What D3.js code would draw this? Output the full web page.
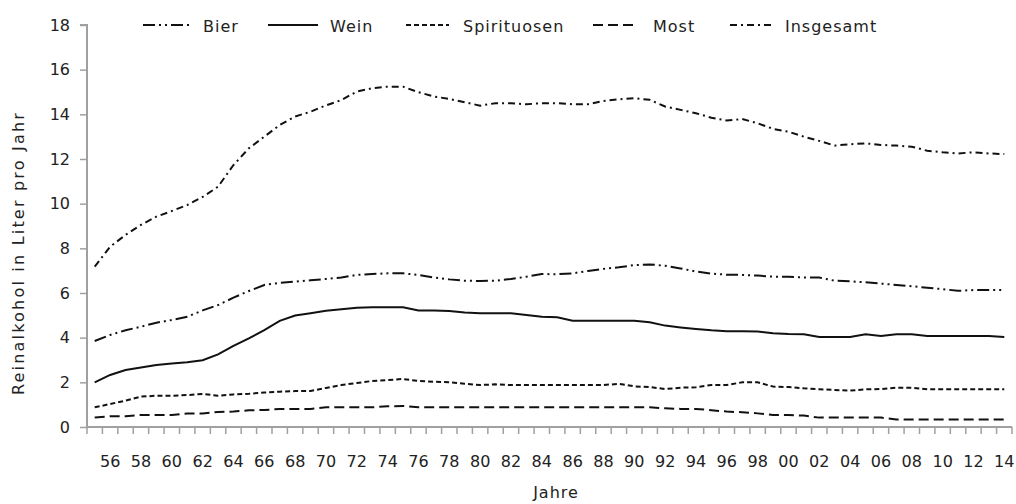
<!DOCTYPE html>
<html>
<head>
<meta charset="utf-8">
<script src="https://cdn.jsdelivr.net/npm/d3@7"></script>
<style>
  html, body { margin: 0; padding: 0; background: #fff; }
  svg { display: block; }
  text { font-family: "DejaVu Sans", "Lato", sans-serif; fill: #222; }
</style>
</head>
<body>
<svg id="chart" width="1016" height="504"></svg>
<script>
const years = d3.range(1955, 2015);
const yTicks = [0, 2, 4, 6, 8, 10, 12, 14, 16, 18];
const seriesNames = ["Bier", "Wein", "Spirituosen", "Most", "Insgesamt"];

const bier = [3.85, 4.12, 4.33, 4.49, 4.67, 4.79, 4.94, 5.22, 5.46, 5.79,
              6.09, 6.36, 6.45, 6.51, 6.57, 6.63, 6.69, 6.81, 6.85, 6.88,
              6.88, 6.81, 6.69, 6.61, 6.55, 6.54, 6.55, 6.63, 6.73, 6.85,
              6.84, 6.88, 6.99, 7.08, 7.15, 7.25, 7.28, 7.22, 7.10, 6.96,
              6.87, 6.82, 6.81, 6.78, 6.73, 6.73, 6.69, 6.69, 6.55, 6.52,
              6.48, 6.42, 6.36, 6.30, 6.24, 6.17, 6.10, 6.13, 6.13, 6.13];
const wein = [2.00, 2.33, 2.55, 2.66, 2.78, 2.84, 2.90, 2.99, 3.25, 3.63,
              3.97, 4.34, 4.75, 4.99, 5.09, 5.20, 5.27, 5.34, 5.36, 5.36,
              5.36, 5.22, 5.22, 5.19, 5.13, 5.09, 5.09, 5.09, 5.01, 4.94,
              4.91, 4.76, 4.76, 4.76, 4.76, 4.76, 4.69, 4.54, 4.46, 4.39,
              4.33, 4.29, 4.29, 4.28, 4.20, 4.16, 4.15, 4.03, 4.03, 4.03,
              4.15, 4.08, 4.15, 4.15, 4.08, 4.08, 4.08, 4.08, 4.08, 4.03];
const spirituosen = [0.88, 1.03, 1.18, 1.36, 1.40, 1.40, 1.43, 1.48, 1.40, 1.46,
              1.49, 1.54, 1.58, 1.61, 1.61, 1.75, 1.88, 1.97, 2.06, 2.10,
              2.15, 2.06, 2.03, 2.00, 1.94, 1.88, 1.91, 1.88, 1.88, 1.88,
              1.88, 1.88, 1.88, 1.88, 1.93, 1.82, 1.79, 1.70, 1.76, 1.78,
              1.88, 1.88, 2.00, 2.00, 1.81, 1.79, 1.73, 1.69, 1.66, 1.63,
              1.69, 1.70, 1.76, 1.76, 1.69, 1.69, 1.69, 1.69, 1.69, 1.69];
const most = [0.42, 0.48, 0.48, 0.54, 0.54, 0.54, 0.60, 0.61, 0.67, 0.69,
              0.75, 0.76, 0.81, 0.81, 0.81, 0.88, 0.88, 0.88, 0.88, 0.93,
              0.94, 0.88, 0.88, 0.88, 0.88, 0.88, 0.88, 0.88, 0.88, 0.88,
              0.88, 0.88, 0.88, 0.88, 0.88, 0.88, 0.88, 0.84, 0.81, 0.81,
              0.75, 0.69, 0.66, 0.61, 0.54, 0.54, 0.51, 0.42, 0.42, 0.42,
              0.42, 0.42, 0.34, 0.34, 0.34, 0.34, 0.34, 0.34, 0.34, 0.34];
const insgesamt = [7.18, 8.07, 8.60, 9.05, 9.42, 9.67, 9.94, 10.30, 10.76, 11.73,
              12.48, 13.00, 13.52, 13.90, 14.12, 14.40, 14.64, 15.02, 15.17, 15.24,
              15.24, 14.99, 14.80, 14.69, 14.54, 14.39, 14.50, 14.50, 14.45, 14.50,
              14.50, 14.45, 14.45, 14.60, 14.67, 14.72, 14.65, 14.35, 14.20, 14.05,
              13.85, 13.72, 13.79, 13.60, 13.35, 13.22, 13.00, 12.81, 12.60, 12.66,
              12.70, 12.63, 12.60, 12.55, 12.37, 12.30, 12.25, 12.30, 12.25, 12.22];

const seriesValues = [bier, wein, spirituosen, most, insgesamt];
const dashes = ["12,4,2,4,2,4", null, "5,3", "10,5", "7,4,2,4"];

const svg = d3.select("#chart");
const mLeft = 87, mRight = 1012, mTop = 25, mBottom = 427;
const axisColor = "#a0a0a0";

const x = d3.scaleBand().domain(years).range([mLeft, mRight]).padding(0);
const y = d3.scaleLinear().domain([0, 18]).range([mBottom, mTop]);

// Y axis
const yAxis = svg.append("g")
  .attr("transform", `translate(${mLeft},0)`)
  .call(d3.axisLeft(y).tickValues(yTicks).tickSize(7).tickPadding(10).tickFormat(d3.format("d")));
yAxis.select(".domain").attr("stroke", axisColor).attr("stroke-width", 2).attr("d", `M-7,${y(18)}H0V${y(0)}`);
yAxis.selectAll(".tick line").attr("stroke", axisColor).attr("stroke-width", 1.5);
yAxis.selectAll(".tick text").style("font-size", "16px").attr("fill", "#222");

// X axis: labels at band centres, tick marks at band boundaries
const xAxis = svg.append("g")
  .attr("transform", `translate(0,${mBottom})`)
  .call(d3.axisBottom(x)
    .tickValues(years.filter(d => d % 2 === 0))
    .tickSize(0).tickPadding(29)
    .tickFormat(d => String(d % 100).padStart(2, "0")));
xAxis.select(".domain").attr("stroke", axisColor).attr("stroke-width", 2).attr("d", `M${mLeft},0H${mRight}`);
xAxis.selectAll(".tick text").style("font-size", "16px").attr("fill", "#222");

const bounds = years.map(d => x(d)).concat([x(years[years.length - 1]) + x.bandwidth()]);
svg.append("g").selectAll("line").data(bounds).join("line")
  .attr("x1", d => d).attr("x2", d => d)
  .attr("y1", mBottom).attr("y2", mBottom + 7)
  .attr("stroke", axisColor).attr("stroke-width", 1.5);

// Lines
const line = d3.line()
  .x((d, i) => x(years[i]) + x.bandwidth() / 2)
  .y(d => y(d));

seriesValues.forEach((vals, k) => {
  svg.append("path")
    .datum(vals)
    .attr("fill", "none")
    .attr("stroke", "#111")
    .attr("stroke-width", 2)
    .attr("stroke-dasharray", dashes[k])
    .attr("d", line);
});

// Legend
const legendItems = [
  { x1: 143, x2: 190, tx: 203 },
  { x1: 268, x2: 318, tx: 330 },
  { x1: 406, x2: 449, tx: 463 },
  { x1: 593, x2: 636, tx: 653 },
  { x1: 730, x2: 772, tx: 785 }
];
const lg = svg.append("g");
legendItems.forEach((it, k) => {
  lg.append("line")
    .attr("x1", it.x1).attr("x2", it.x2).attr("y1", 25).attr("y2", 25)
    .attr("stroke", "#111").attr("stroke-width", 2)
    .attr("stroke-dasharray", dashes[k]);
  lg.append("text")
    .attr("x", it.tx).attr("y", 26).attr("dy", "0.35em")
    .style("font-size", "16px")
    .style("letter-spacing", "1px")
    .text(seriesNames[k]);
});

// Axis titles
svg.append("text")
  .attr("transform", `translate(24,253) rotate(-90)`)
  .attr("text-anchor", "middle")
  .style("font-size", "16px")
  .style("letter-spacing", "2.2px")
  .text("Reinalkohol in Liter pro Jahr");

svg.append("text")
  .attr("x", 556).attr("y", 498)
  .attr("text-anchor", "middle")
  .style("font-size", "16px")
  .style("letter-spacing", "1px")
  .text("Jahre");
</script>
</body>
</html>
